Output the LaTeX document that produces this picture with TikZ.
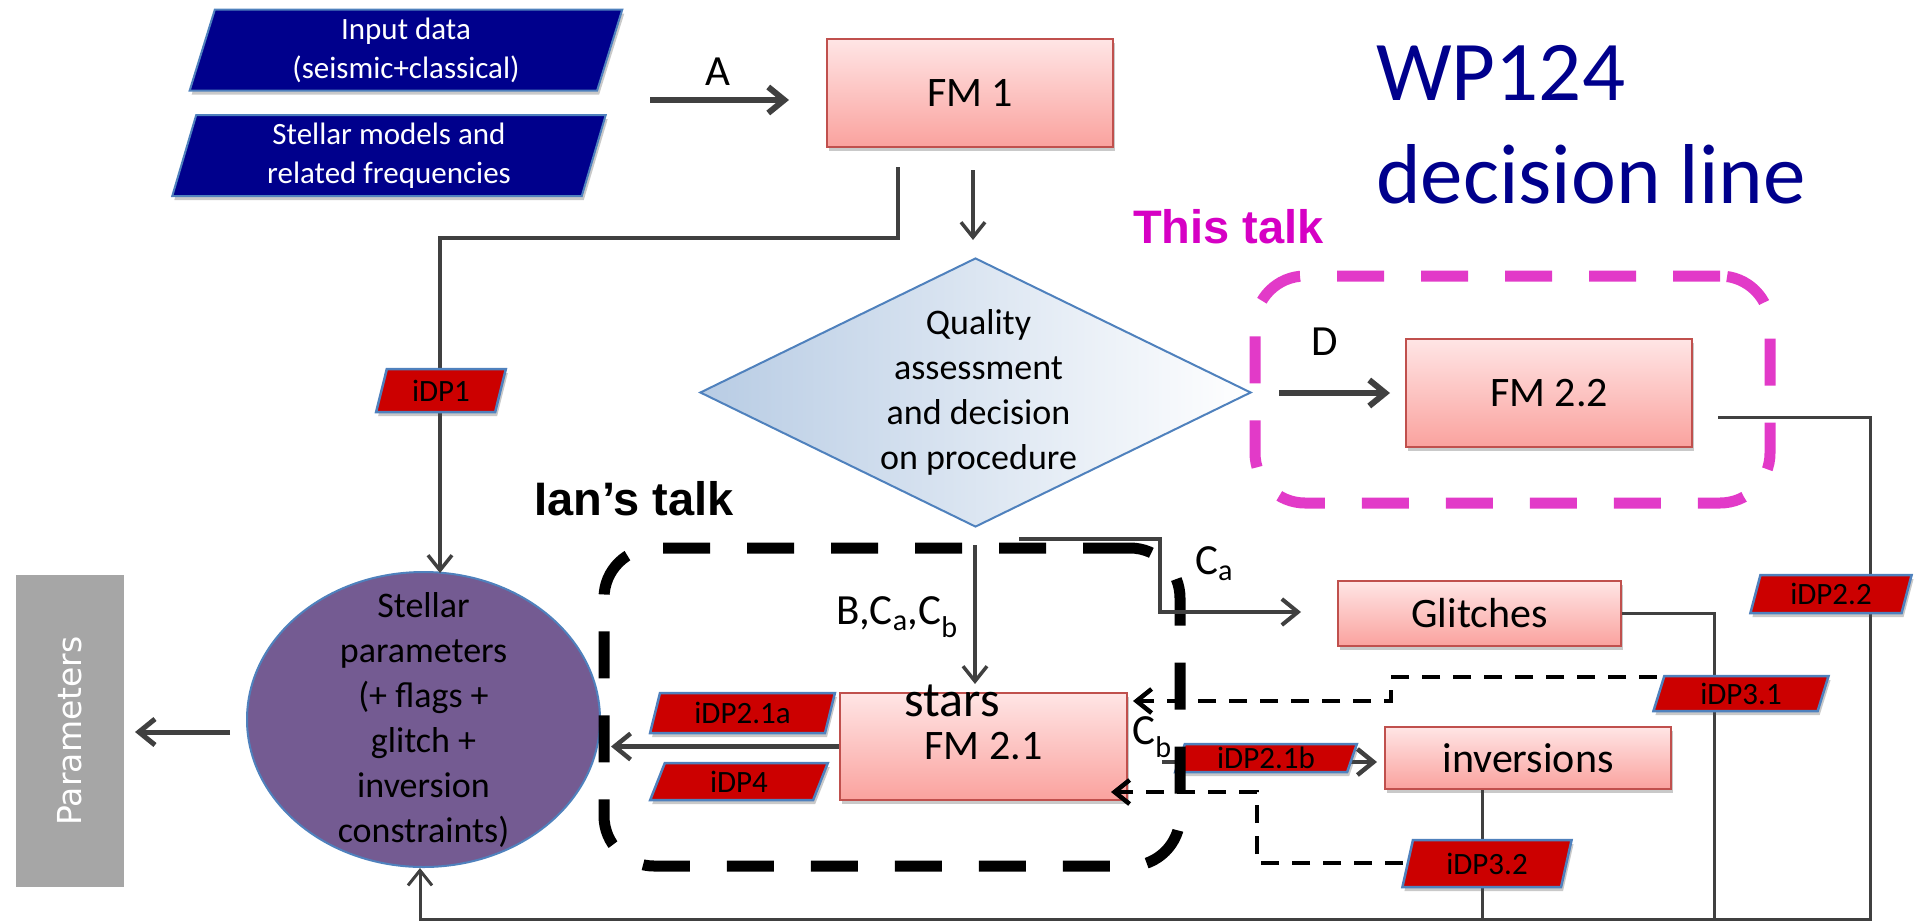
\documentclass[tikz,border=0pt]{standalone}
\usepackage{fontspec}
\setmainfont{Carlito}
\newfontfamily\headfont{Liberation Sans}
\newfontfamily\widefont{DejaVu Sans}
\usetikzlibrary{shapes.geometric,arrows.meta,shadows,calc}

\definecolor{navyfill}{RGB}{0,0,140}
\definecolor{edgeblue}{RGB}{79,129,189}
\definecolor{tagred}{RGB}{204,0,0}
\definecolor{fmtop}{RGB}{255,229,229}
\definecolor{fmbot}{RGB}{250,162,158}
\definecolor{fmedge}{RGB}{192,80,77}
\definecolor{linegray}{RGB}{64,64,64}
\definecolor{diamleft}{RGB}{184,204,228}
\definecolor{purplefill}{RGB}{116,91,146}
\definecolor{paramgray}{RGB}{166,166,166}
\definecolor{talkmag}{RGB}{214,0,196}
\definecolor{dashmag}{RGB}{226,58,200}
\definecolor{titlenavy}{RGB}{0,0,140}

\newcommand{\fsz}[2]{\fontsize{#1}{#2}\selectfont}

\begin{document}
\begin{tikzpicture}[x=1pt,y=-1pt,
  softshadow/.style={drop shadow={shadow xshift=2pt,shadow yshift=-4pt,opacity=0.3,fill=black!70}},
  inputbox/.style={trapezium,trapezium left angle=77,trapezium right angle=103,
    trapezium stretches=true,fill=navyfill,draw=edgeblue,line width=2pt,text=white,
    align=center,font=\fsz{31}{39},inner sep=0pt,softshadow},
  fmbox/.style={rectangle,top color=fmtop,bottom color=fmbot,draw=fmedge,line width=2.5pt,
    font=\fsz{42}{48},inner sep=0pt,softshadow},
  tagbox/.style={trapezium,trapezium left angle=75,trapezium right angle=105,
    trapezium stretches=true,fill=tagred,draw=edgeblue,line width=2.5pt,
    font=\fsz{31}{31},inner sep=0pt,softshadow},
  conn/.style={draw=linegray,line width=3.5pt},
  tip/.style={-{Straight Barb[length=16pt,width=26pt]}},
  smalltip/.style={-{Straight Barb[length=15pt,width=24pt]}},
  thindash/.style={draw=black,line width=4.5pt,dash pattern=on 18pt off 13pt},
  lbl/.style={font=\fsz{43}{44},inner sep=0pt},
  groupbox/.style={rectangle,inner sep=0pt,line width=11pt,dash pattern=on 47pt off 37pt,
    rounded corners=50pt}
]
\useasboundingbox (0,0) rectangle (1916,922);

% ---- input blocks ----
\node[inputbox,minimum width=434pt,minimum height=81pt] (input) at (406,50)
  {Input data\\(seismic+classical)};
\node[inputbox,minimum width=434pt,minimum height=81pt] (models) at (389,155.5)
  {Stellar models and\\related frequencies};

% ---- processing boxes ----
\node[fmbox,minimum width=286pt,minimum height=108pt] (fm1) at (970,93) {FM 1};
\node[fmbox,minimum width=286pt,minimum height=108pt] (fm22) at (1549,393) {FM 2.2};
\node[fmbox,minimum width=287pt,minimum height=107pt] (fm21) at (983.5,746.5) {\raisebox{-4pt}{FM 2.1}};
\node[fmbox,minimum width=283pt,minimum height=65pt] (glitch) at (1479.5,613.5) {Glitches};
\node[fmbox,minimum width=286pt,minimum height=62pt] (inv) at (1528,758) {inversions};
\node[font=\fsz{50}{50},inner sep=0pt,anchor=base] (stars) at (952,716) {stars};

% ---- decision diamond ----
\node[diamond,aspect=2.05,minimum width=551pt,minimum height=269pt,inner sep=0pt,
  left color=diamleft,right color=white,draw=edgeblue,line width=2pt] (decide) at (975.5,392.5) {};
\node[align=center,font=\fsz{36}{45},inner sep=0pt] (decidetext) at ([xshift=3pt]decide.center)
  {Quality\\assessment\\and decision\\on procedure};

% ---- result ellipse and output bar ----
\node[ellipse,minimum width=353pt,minimum height=295pt,inner sep=0pt,
  fill=purplefill,draw=edgeblue,line width=2pt] (stellar) at (423.5,719.5) {};
\node[align=center,font=\fsz{36}{45},inner sep=0pt] (stellartext) at (stellar.center)
  {Stellar\\parameters\\(+ flags +\\glitch +\\inversion\\constraints)};
\node[rotate=90,fill=paramgray,minimum width=312pt,minimum height=108pt,inner sep=0pt,
  text=white,font=\widefont\fsz{33}{33}] (params) at (70,731) {Parameters};

% ---- headings ----
\node[anchor=base west,inner sep=0pt,font=\fsz{85}{100},text=titlenavy] (wp) at (1376,100) {WP124};
\node[anchor=base west,inner sep=0pt,font=\fsz{85}{100},text=titlenavy] (dline) at (1376,203) {decision line};
\node[anchor=base west,inner sep=0pt,font=\headfont\bfseries\fsz{47}{50},text=talkmag] (thistalk) at (1133,243) {This talk};
\node[anchor=base west,inner sep=0pt,font=\headfont\bfseries\fsz{47}{50}] (ianstalk) at (534,515) {Ian’s talk};

% ---- connector end points ----
\coordinate (aS) at (650,100);  \coordinate (aE) at (789,100);
\coordinate (qS) at (973,170);  \coordinate (qE) at (973,240);
\coordinate (pS) at (898,167);  \coordinate (pC) at (440,238);  \coordinate (pE) at (440,573);
\coordinate (bS) at (975,545);  \coordinate (bE) at (975,684);
\coordinate (caS) at (1019,539); \coordinate (caK) at (1160,612); \coordinate (caE) at (1301,612);
\coordinate (dS) at (1279,393); \coordinate (dE) at (1390,393);
\coordinate (lE) at (611,746.5);
\coordinate (cbS) at (1162,762); \coordinate (cbE) at (1377,762);
\coordinate (oS) at (230,732);  \coordinate (oE) at (135,732);
\coordinate (fbS) at (1718,417); \coordinate (fbR) at (1870,919); \coordinate (fbE) at (420,868);
\coordinate (gK) at (1714,919);
\coordinate (iK) at (1482,919);
\coordinate (r1S) at (1657,677); \coordinate (r1K) at (1391,701); \coordinate (r1E) at (1133,701);
\coordinate (r2S) at (1403,863); \coordinate (r2K) at (1257,792); \coordinate (r2E) at (1111,792);

% ---- connectors ----
\draw[conn,line width=6pt,tip] (aS) -- (aE);
\draw[conn,smalltip] (qS) -- (qE);
\draw[conn,smalltip] (pS) |- (pC) -- (pE);
\draw[conn,line width=6pt,tip] (dS) -- (dE);
\draw[conn,line width=4.5pt,tip] (fm21.west) -- (lE);
\draw[conn,line width=4.5pt,tip] (cbS) -- (cbE);
\draw[conn,line width=5pt,tip] (oS) -- (oE);
\draw[conn,line width=3pt,smalltip] (fbS) -| (fbR) -| (fbE);
\draw[conn,line width=3pt] (glitch.east) -| (gK);
\draw[conn,line width=3pt] (inv.south -| iK) -- (iK);
\draw[thindash,smalltip] (r1S) -| (r1K) -- (r1E);
\draw[thindash,smalltip] (r2S) -| (r2K) -- (r2E);

% ---- data product tags ----
\node[tagbox,minimum width=130pt,minimum height=43pt] (t1) at (441,390.5) {iDP1};
\node[tagbox,minimum width=185pt,minimum height=40pt] (t21a) at (742.5,713) {iDP2.1a};
\node[tagbox,minimum width=178pt,minimum height=37pt] (t4) at (739,781.5) {iDP4};
\node[tagbox,minimum width=182pt,minimum height=28pt] (t21b) at (1266,758) {iDP2.1b};
\node[tagbox,minimum width=162pt,minimum height=38pt] (t22) at (1831,594) {iDP2.2};
\node[tagbox,minimum width=176pt,minimum height=35pt] (t31) at (1741,693.5) {iDP3.1};
\node[tagbox,minimum width=170pt,minimum height=47pt] (t32) at (1487,863.5) {iDP3.2};

% ---- talk groupings ----
\node[groupbox,draw=dashmag,minimum width=515pt,minimum height=227pt] (thisgroup) at (1512.5,389.5) {};
\node[groupbox,draw=black,minimum width=576pt,minimum height=318pt] (iangroup) at (892,707) {};

% ---- connectors drawn over the grouping ----
\draw[conn,smalltip] (bS) -- (bE);
\draw[conn,line width=4pt,tip] (caS) -| (caK) -- (caE);

% ---- connector labels ----
\node[lbl] (la) at (718,72) {A};
\node[lbl] (ld) at (1325,342) {D};
\node[lbl] (lca) at (1214,564) {C\textsubscript{a}};
\node[lbl] (lcb) at (1152,737) {C\textsubscript{b}};
\node[lbl] (lb) at (897,617) {B,C\textsubscript{a},C\textsubscript{b}};
\end{tikzpicture}
\end{document}
